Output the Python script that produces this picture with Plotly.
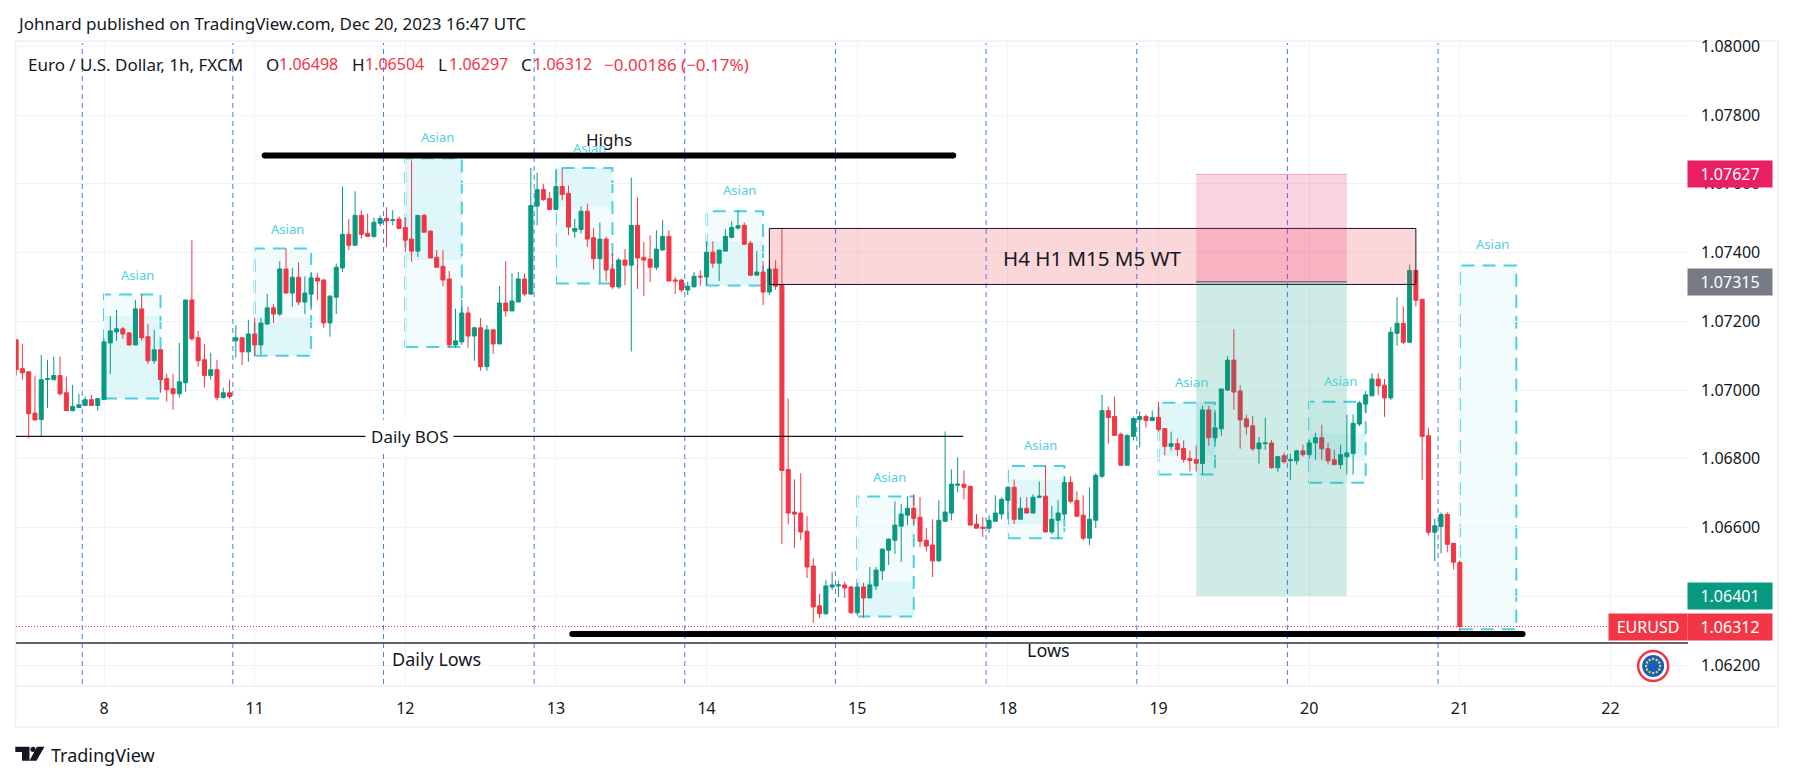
import math
import plotly.graph_objects as go

# ---- data -------------------------------------------------------------
first_bar = -14
opens = [
1.07146,1.07062,1.07053,1.06933,1.06914,1.07031,1.07030,1.07042,1.06992,1.06940,
1.06949,1.06955,1.06972,1.06955,1.06972,1.07137,1.07169,1.07178,1.07166,1.07131,
1.07236,1.07155,1.07085,1.07117,1.07033,1.07004,1.06989,1.07021,1.07262,1.07152,
1.07088,1.07042,1.07059,1.06978,1.06992,1.07143,1.07152,1.07111,1.07163,1.07131,
1.07192,1.07239,1.07221,1.07352,1.07282,1.07328,1.07256,1.07279,1.07326,1.07320,
1.07195,1.07270,1.07355,1.07453,1.07421,1.07508,1.07456,1.07447,1.07485,1.07499,
1.07493,1.07497,1.07473,1.07439,1.07404,1.07508,1.07462,1.07386,1.07360,1.07323,
1.07131,1.07140,1.07224,1.07157,1.07181,1.07068,1.07175,1.07134,1.07253,1.07230,
1.07256,1.07323,1.07279,1.07535,1.07583,1.07557,1.07525,1.07592,1.07572,1.07462,
1.07467,1.07520,1.07443,1.07382,1.07439,1.07352,1.07300,1.07378,1.07363,1.07479,
1.07386,1.07381,1.07357,1.07407,1.07447,1.07320,1.07320,1.07291,1.07300,1.07331,
1.07329,1.07401,1.07369,1.07404,1.07444,1.07471,1.07479,1.07427,1.07334,1.07343,
1.07285,1.07352,1.07307,1.06769,1.06645,1.06642,1.06589,1.06488,1.06372,1.06349,
1.06427,1.06430,1.06433,1.06427,1.06352,1.06427,1.06395,1.06430,1.06474,1.06534,
1.06563,1.06604,1.06636,1.06656,1.06630,1.06563,1.06549,1.06503,1.06618,1.06642,
1.06723,1.06726,1.06720,1.06610,1.06601,1.06598,1.06618,1.06639,1.06679,1.06717,
1.06624,1.06656,1.06642,1.06688,1.06691,1.06587,1.06621,1.06639,1.06731,1.06679,
1.06636,1.06569,1.06621,1.06749,1.06940,1.06923,1.06871,1.06781,1.06865,1.06914,
1.06923,1.06911,1.06920,1.06888,1.06836,1.06844,1.06830,1.06801,1.06798,1.06786,
1.06942,1.06861,1.06887,1.07000,1.07087,1.06997,1.06916,1.06896,1.06829,1.06844,
1.06846,1.06774,1.06809,1.06794,1.06794,1.06823,1.06812,1.06846,1.06861,1.06829,
1.06797,1.06783,1.06806,1.06815,1.06901,1.06959,1.06983,1.07032,1.07014,1.06977,
1.07165,1.07194,1.07139,1.07348,1.07264,1.06867,1.06586,1.06603,1.06638,1.06554,
1.06498]
highs = [
1.07148,1.07134,1.07053,1.07042,1.07102,1.07088,1.07097,1.07097,1.07039,1.07015,
1.06989,1.06981,1.06986,1.06975,1.07149,1.07215,1.07233,1.07184,1.07169,1.07262,
1.07279,1.07192,1.07175,1.07117,1.07047,1.07047,1.07137,1.07262,1.07436,1.07172,
1.07134,1.07108,1.07088,1.07007,1.07030,1.07189,1.07152,1.07204,1.07210,1.07210,
1.07279,1.07250,1.07375,1.07412,1.07355,1.07372,1.07331,1.07343,1.07340,1.07323,
1.07276,1.07368,1.07592,1.07497,1.07578,1.07523,1.07513,1.07502,1.07508,1.07532,
1.07523,1.07505,1.07502,1.07668,1.07508,1.07513,1.07465,1.07407,1.07407,1.07346,
1.07236,1.07262,1.07242,1.07184,1.07210,1.07189,1.07178,1.07302,1.07375,1.07340,
1.07343,1.07340,1.07646,1.07632,1.07600,1.07576,1.07643,1.07643,1.07595,1.07498,
1.07534,1.07542,1.07472,1.07487,1.07446,1.07400,1.07384,1.07410,1.07618,1.07560,
1.07430,1.07450,1.07465,1.07494,1.07465,1.07329,1.07323,1.07315,1.07343,1.07349,
1.07433,1.07433,1.07407,1.07468,1.07491,1.07523,1.07488,1.07433,1.07404,1.07375,
1.07375,1.07378,1.07471,1.06975,1.06740,1.06758,1.06633,1.06511,1.06407,1.06447,
1.06471,1.06445,1.06442,1.06430,1.06439,1.06439,1.06485,1.06485,1.06540,1.06569,
1.06676,1.06668,1.06691,1.06697,1.06688,1.06598,1.06624,1.06679,1.06879,1.06769,
1.06804,1.06766,1.06720,1.06639,1.06630,1.06636,1.06694,1.06688,1.06720,1.06740,
1.06688,1.06688,1.06697,1.06734,1.06781,1.06662,1.06679,1.06749,1.06749,1.06705,
1.06694,1.06717,1.06758,1.06986,1.06952,1.06981,1.06876,1.06871,1.06923,1.06937,
1.06929,1.06940,1.06966,1.06888,1.06879,1.06859,1.06853,1.06824,1.06839,1.06954,
1.06954,1.06942,1.07003,1.07099,1.07177,1.07014,1.06928,1.06925,1.06864,1.06919,
1.06855,1.06809,1.06818,1.06815,1.06826,1.06841,1.06855,1.06875,1.06899,1.06846,
1.06826,1.06841,1.06928,1.06929,1.06968,1.06997,1.07049,1.07049,1.07032,1.07183,
1.07270,1.07243,1.07365,1.07348,1.07264,1.06890,1.06626,1.06644,1.06644,1.06554,
1.06504]
lows = [
1.07042,1.07030,1.06859,1.06911,1.06864,1.06947,1.07030,1.06984,1.06940,1.06940,
1.06949,1.06955,1.06955,1.06940,1.06972,1.07047,1.07143,1.07149,1.07128,1.07131,
1.07143,1.07076,1.07076,1.06992,1.06966,1.06943,1.06978,1.06995,1.07143,1.07068,
1.07007,1.07030,1.06970,1.06975,1.06975,1.07094,1.07073,1.07082,1.07099,1.07102,
1.07189,1.07195,1.07215,1.07281,1.07242,1.07247,1.07221,1.07233,1.07262,1.07181,
1.07155,1.07221,1.07343,1.07407,1.07421,1.07440,1.07445,1.07443,1.07476,1.07416,
1.07479,1.07470,1.07402,1.07373,1.07387,1.07459,1.07384,1.07357,1.07302,1.07123,
1.07123,1.07131,1.07123,1.07085,1.07056,1.07056,1.07105,1.07134,1.07213,1.07230,
1.07256,1.07273,1.07276,1.07479,1.07550,1.07523,1.07525,1.07552,1.07450,1.07443,
1.07455,1.07416,1.07350,1.07313,1.07317,1.07294,1.07294,1.07305,1.07112,1.07294,
1.07273,1.07314,1.07349,1.07407,1.07317,1.07279,1.07285,1.07276,1.07300,1.07303,
1.07303,1.07355,1.07317,1.07404,1.07442,1.07467,1.07422,1.07331,1.07334,1.07247,
1.07276,1.07291,1.06552,1.06610,1.06540,1.06563,1.06453,1.06323,1.06337,1.06346,
1.06418,1.06398,1.06395,1.06349,1.06344,1.06337,1.06395,1.06418,1.06447,1.06491,
1.06523,1.06500,1.06607,1.06610,1.06543,1.06531,1.06456,1.06500,1.06618,1.06621,
1.06702,1.06682,1.06607,1.06598,1.06572,1.06584,1.06618,1.06624,1.06624,1.06610,
1.06624,1.06642,1.06642,1.06685,1.06587,1.06581,1.06566,1.06624,1.06670,1.06630,
1.06563,1.06549,1.06598,1.06743,1.06844,1.06868,1.06781,1.06781,1.06853,1.06833,
1.06891,1.06911,1.06879,1.06810,1.06824,1.06807,1.06789,1.06763,1.06763,1.06754,
1.06838,1.06849,1.06867,1.06997,1.06942,1.06829,1.06870,1.06823,1.06786,1.06826,
1.06771,1.06762,1.06786,1.06739,1.06783,1.06806,1.06800,1.06797,1.06797,1.06783,
1.06783,1.06770,1.06754,1.06754,1.06895,1.06935,1.06983,1.06986,1.06922,1.06971,
1.07128,1.07133,1.07136,1.07243,1.06739,1.06577,1.06502,1.06525,1.06528,1.06478,
1.06297]
closes = [
1.07059,1.07050,1.06931,1.06913,1.07030,1.07033,1.07042,1.06989,1.06940,1.06952,
1.06957,1.06972,1.06955,1.06975,1.07140,1.07172,1.07178,1.07163,1.07131,1.07236,
1.07152,1.07085,1.07117,1.07030,1.07001,1.06989,1.07024,1.07262,1.07149,1.07085,
1.07042,1.07059,1.06978,1.06992,1.06981,1.07152,1.07111,1.07163,1.07131,1.07195,
1.07239,1.07221,1.07352,1.07282,1.07328,1.07256,1.07282,1.07326,1.07317,1.07195,
1.07273,1.07357,1.07453,1.07421,1.07508,1.07453,1.07447,1.07488,1.07499,1.07492,
1.07495,1.07470,1.07436,1.07404,1.07508,1.07459,1.07384,1.07357,1.07320,1.07131,
1.07143,1.07224,1.07157,1.07181,1.07068,1.07175,1.07134,1.07253,1.07230,1.07259,
1.07323,1.07279,1.07537,1.07583,1.07554,1.07525,1.07592,1.07569,1.07474,1.07470,
1.07520,1.07439,1.07382,1.07439,1.07349,1.07300,1.07378,1.07363,1.07479,1.07384,
1.07378,1.07357,1.07410,1.07447,1.07317,1.07317,1.07291,1.07302,1.07331,1.07329,
1.07401,1.07369,1.07407,1.07447,1.07473,1.07478,1.07424,1.07334,1.07343,1.07285,
1.07352,1.07302,1.06766,1.06642,1.06639,1.06587,1.06485,1.06369,1.06349,1.06430,
1.06433,1.06433,1.06424,1.06352,1.06427,1.06395,1.06433,1.06476,1.06537,1.06566,
1.06607,1.06639,1.06656,1.06627,1.06560,1.06546,1.06503,1.06621,1.06645,1.06726,
1.06726,1.06717,1.06607,1.06598,1.06598,1.06621,1.06642,1.06682,1.06717,1.06624,
1.06656,1.06642,1.06688,1.06691,1.06587,1.06624,1.06642,1.06731,1.06676,1.06633,
1.06569,1.06624,1.06752,1.06940,1.06920,1.06868,1.06781,1.06868,1.06917,1.06923,
1.06911,1.06920,1.06885,1.06836,1.06844,1.06827,1.06798,1.06795,1.06787,1.06942,
1.06861,1.06890,1.07003,1.07087,1.06994,1.06913,1.06893,1.06829,1.06846,1.06846,
1.06774,1.06806,1.06791,1.06797,1.06823,1.06812,1.06846,1.06861,1.06829,1.06794,
1.06783,1.06812,1.06817,1.06903,1.06962,1.06986,1.07032,1.07012,1.06977,1.07168,
1.07194,1.07139,1.07348,1.07261,1.06865,1.06586,1.06605,1.06638,1.06551,1.06499,
1.06312]
bars = list(range(first_bar, first_bar + len(opens)))

day_ticks = [0, 24, 48, 72, 96, 120, 144, 168, 192, 216, 240]
day_labels = ["8", "11", "12", "13", "14", "15", "18", "19", "20", "21", "22"]
price_ticks = [1.062, 1.064, 1.066, 1.068, 1.07, 1.072, 1.074, 1.076, 1.078, 1.08]
price_tick_labels = ["1.06200", "1.06400", "1.06600", "1.06800", "1.07000",
                     "1.07200", "1.07400", "1.07600", "1.07800", "1.08000"]
session_lines = [-3.47, 20.53, 44.53, 68.53, 92.53, 116.53, 140.53, 164.53, 188.53, 212.53]

# Asian boxes: start, end, top, bottom, inner top, inner bottom, label bar, label price
asian_x0 = [0, 24, 48, 72, 96, 120, 144, 168, 192, 216]
asian_x1 = [9, 33, 57, 81, 105, 129, 153, 177, 201, 225]
asian_top = [1.07278, 1.07412, 1.07674, 1.07646, 1.07520, 1.06690, 1.06779, 1.06963, 1.06966, 1.07362]
asian_bottom = [1.06975, 1.07100, 1.07125, 1.07310, 1.07304, 1.06341, 1.06569, 1.06754, 1.06730, 1.06304]
inner_top = [1.07215, 1.07211, 1.07674, 1.07646, 1.07433, 1.06443, 1.06740, 1.06963, 1.06874, None]
inner_bottom = [1.06975, 1.07100, 1.07378, 1.07532, 1.07304, 1.06341, 1.06610, 1.06809, 1.06797, None]
asian_label_x = [5.4, 29.2, 53.1, 77.3, 101.3, 125.2, 149.2, 173.2, 197.0, 221.2]
asian_label_y = [1.07336, 1.07469, 1.07735, 1.07705, 1.07582, 1.06748, 1.06841, 1.07022, 1.07025, 1.07425]

last_price = 1.06312
daily_bos = 1.06865
daily_lows = 1.06264
highs_level = 1.07682
lows_level = 1.06290
zone = (106, 209, 1.07470, 1.07307)
position = (174, 198, 1.07627, 1.07315, 1.06401)

price_labels = [1.07627, 1.07315, 1.06401, 1.06312]
price_label_colors = ["#e91e63", "#787b86", "#089981", "#f23645"]

# ---- layout helpers ---------------------------------------------------
W, H = 1793, 781
L, R, T, B = 16, 1688, 42, 686
FONT = "Noto Sans"
INK = "#131722"
RED = "#f23645"
GREEN = "#089981"
CYAN = "#4dd0e1"
GRID = "#f0f3fa"


def px(x):
    return (x - L) / (R - L)


def py(y):
    return (B - y) / (B - T)


shapes = []


def rect(x0, x1, y0, y1, fill, line=None, width=0, dash=None, layer="above"):
    shapes.append(dict(type="rect", layer=layer, x0=x0, x1=x1, y0=y0, y1=y1,
                       xref="x", yref="y", fillcolor=fill,
                       line=dict(color=line or "rgba(0,0,0,0)", width=width, dash=dash)))


def hline(x0, x1, y, color, width, dash=None):
    shapes.append(dict(type="line", layer="above", x0=x0, x1=x1, y0=y, y1=y, xref="x", yref="y",
                       line=dict(color=color, width=width, dash=dash)))


def dot(x, y, r, fill, line=None, width=0, dx=0, dy=0):
    shapes.append(dict(type="circle", layer="above", xref="x", yref="y",
                       xsizemode="pixel", ysizemode="pixel", xanchor=x, yanchor=y,
                       x0=dx - r, x1=dx + r, y0=dy - r, y1=dy + r, fillcolor=fill,
                       line=dict(color=line or "rgba(0,0,0,0)", width=width)))


def paper_path(points, fill):
    d = "M" + " L".join(f"{px(a):.5f},{py(b):.5f}" for a, b in points) + " Z"
    shapes.append(dict(type="path", path=d, xref="paper", yref="paper", fillcolor=fill,
                       line=dict(width=0), layer="above"))


# frame and axis rule
shapes.append(dict(type="rect", xref="paper", yref="paper", x0=px(15.5), x1=px(1778), y0=py(727), y1=py(41),
                   line=dict(color=GRID, width=2), fillcolor="rgba(0,0,0,0)", layer="below"))
shapes.append(dict(type="line", xref="paper", yref="paper", x0=px(16), x1=px(1778), y0=py(686), y1=py(686),
                   line=dict(color="#e0e3eb", width=1), layer="below"))

# session lines and last price
for s in session_lines:
    shapes.append(dict(type="line", layer="above", xref="x", yref="paper", x0=s, x1=s, y0=py(684), y1=py(43),
                       line=dict(color="#2962ff", width=1, dash="5px,4px"), opacity=0.85))
hline(bars[0] - 0.02, 252.35, last_price, RED, 1, "1px,2px")

# Asian boxes (the candles sit on top of them)
for i in range(len(asian_x0)):
    rect(asian_x0[i], asian_x1[i], asian_bottom[i], asian_top[i], "rgba(77,208,225,0.067)",
         CYAN, 2, "13px,8px", layer="below")
    if inner_top[i] is not None:
        rect(asian_x0[i], asian_x1[i], inner_bottom[i], inner_top[i], "rgba(77,208,225,0.115)", layer="below")

# zone and position
rect(zone[0], zone[1], zone[3], zone[2], "rgba(242,54,69,0.2)", "#131722", 1)
rect(position[0], position[1], position[3], position[2], "rgba(233,30,99,0.2)")
rect(position[0], position[1], position[4], position[3], "rgba(8,153,129,0.2)")
hline(position[0], position[1], position[3], "#787b86", 1.5)
hline(position[0], position[1], position[2], "rgba(233,30,99,0.35)", 1)

# structure lines
hline(bars[0] - 0.02, 136.9, daily_bos, "#131722", 1.3)
hline(bars[0] - 0.02, 252.35, daily_lows, "#333333", 1.5)
for a, b, lvl in [(25.6, 135.3, highs_level), (74.6, 226.0, lows_level)]:
    hline(a, b, lvl, "#000000", 6)
    dot(a, lvl, 3, "#000000")
    dot(b, lvl, 3, "#000000")

# EUR badge
badge_x, badge_y = 246.8, 1.06197
dot(badge_x, badge_y, 15, "#ffffff", RED, 2.5)
dot(badge_x, badge_y, 11, "#1560bd")
for k in range(12):
    dot(badge_x, badge_y, 1.2, "#f5d33f", dx=7 * math.cos(k * math.pi / 6), dy=7 * math.sin(k * math.pi / 6))

# logo
paper_path([(15.3, 746.7), (29.5, 746.7), (29.5, 760.7), (22, 760.7), (22, 752), (15.3, 752)], INK)
paper_path([(37, 746.7), (44.5, 746.7), (36.5, 760.7), (29.5, 760.7)], INK)
dot_x, dot_y = 33, 749.3
shapes.append(dict(type="circle", xref="paper", yref="paper", x0=px(dot_x - 2.6), x1=px(dot_x + 2.6),
                   y0=py(dot_y + 2.6), y1=py(dot_y - 2.6), fillcolor=INK, line=dict(width=0), layer="above"))

# ---- text -------------------------------------------------------------
ann = []


def note(x, y, text, size, color=INK, **kw):
    ann.append(dict(x=x, y=y, xref="x", yref="y", text=text, showarrow=False,
                    font=dict(family=FONT, size=size, color=color), **kw))


def screen(x, y, text, size, color=INK, anchor="left"):
    ann.append(dict(x=px(x), y=py(y), xref="paper", yref="paper", text=text, showarrow=False,
                    xanchor=anchor, yanchor="middle", borderpad=0,
                    font=dict(family=FONT, size=size, color=color)))


for i in range(len(asian_label_x)):
    note(asian_label_x[i], asian_label_y[i], "Asian", 13, CYAN)
note(80.4, 1.07729, "Highs", 17)
note(150.4, 1.06244, "Lows", 18)
note(52.9, 1.06217, "Daily Lows", 18)
note(48.6, daily_bos, "Daily BOS", 17, bgcolor="#ffffff", borderpad=5)
note(157.4, 1.07384, "H4 H1 M15 M5 WT", 20.5)

screen(15.5, 23, "Johnard published on TradingView.com, Dec 20, 2023 16:47 UTC", 17)
screen(27, 64, "Euro / U.S. Dollar, 1h, FXCM", 17)
for x, t, c, s in [(265, "O", INK, 17), (278, "1.06498", RED, 16), (351, "H", INK, 17), (364, "1.06504", RED, 16),
                   (437, "L", INK, 17), (448, "1.06297", RED, 16), (520, "C", INK, 17), (532, "1.06312", RED, 16),
                   (603, "\u22120.00186 (\u22120.17%)", RED, 17)]:
    screen(x, 64, t, s, c)
screen(50, 755, "TradingView", 18)

for p, c in zip(price_labels, price_label_colors):
    ann.append(dict(x=px(1730), y=p, xref="paper", yref="y", text=f"{p:.5f}", showarrow=False,
                    width=84, height=26, bgcolor=c, borderpad=0, xanchor="center", yanchor="middle",
                    font=dict(family=FONT, size=16, color="#ffffff")))
ann.append(dict(x=px(1648), y=last_price, xref="paper", yref="y", text="EURUSD", showarrow=False,
                width=78, height=26, bgcolor=RED, borderpad=0, xanchor="center", yanchor="middle",
                font=dict(family=FONT, size=16, color="#ffffff")))

# ---- figure -----------------------------------------------------------
fig = go.Figure(go.Candlestick(
    x=bars, open=opens, high=highs, low=lows, close=closes, whiskerwidth=0,
    increasing=dict(line=dict(color=GREEN, width=1), fillcolor=GREEN),
    decreasing=dict(line=dict(color=RED, width=1), fillcolor=RED),
    hoverinfo="skip", showlegend=False))
fig.update_layout(
    width=W, height=H, autosize=False,
    margin=dict(l=L, r=W - R, t=T, b=H - B, pad=0),
    paper_bgcolor="#ffffff", plot_bgcolor="#ffffff", showlegend=False,
    font=dict(family=FONT, color=INK),
    shapes=shapes, annotations=ann, boxgap=0.2, boxgroupgap=0.2,
    xaxis=dict(range=[-14.02, 252.35], rangeslider=dict(visible=False), tickmode="array",
               tickvals=day_ticks, ticktext=day_labels, showgrid=True, gridcolor=GRID, gridwidth=1,
               zeroline=False, showline=False, ticks="", ticklabelstandoff=11,
               tickfont=dict(family=FONT, size=16, color=INK)),
    yaxis=dict(range=[1.061389, 1.080124], side="right", tickmode="array",
               tickvals=price_ticks, ticktext=price_tick_labels, showgrid=True, gridcolor=GRID, gridwidth=1,
               zeroline=False, showline=False, ticks="", ticklabelstandoff=12,
               tickfont=dict(family=FONT, size=16, color=INK)),
)
fig.write_html("out.html", config={"displayModeBar": False},
               post_script="document.body.style.margin='0';document.body.style.overflow='hidden';")
